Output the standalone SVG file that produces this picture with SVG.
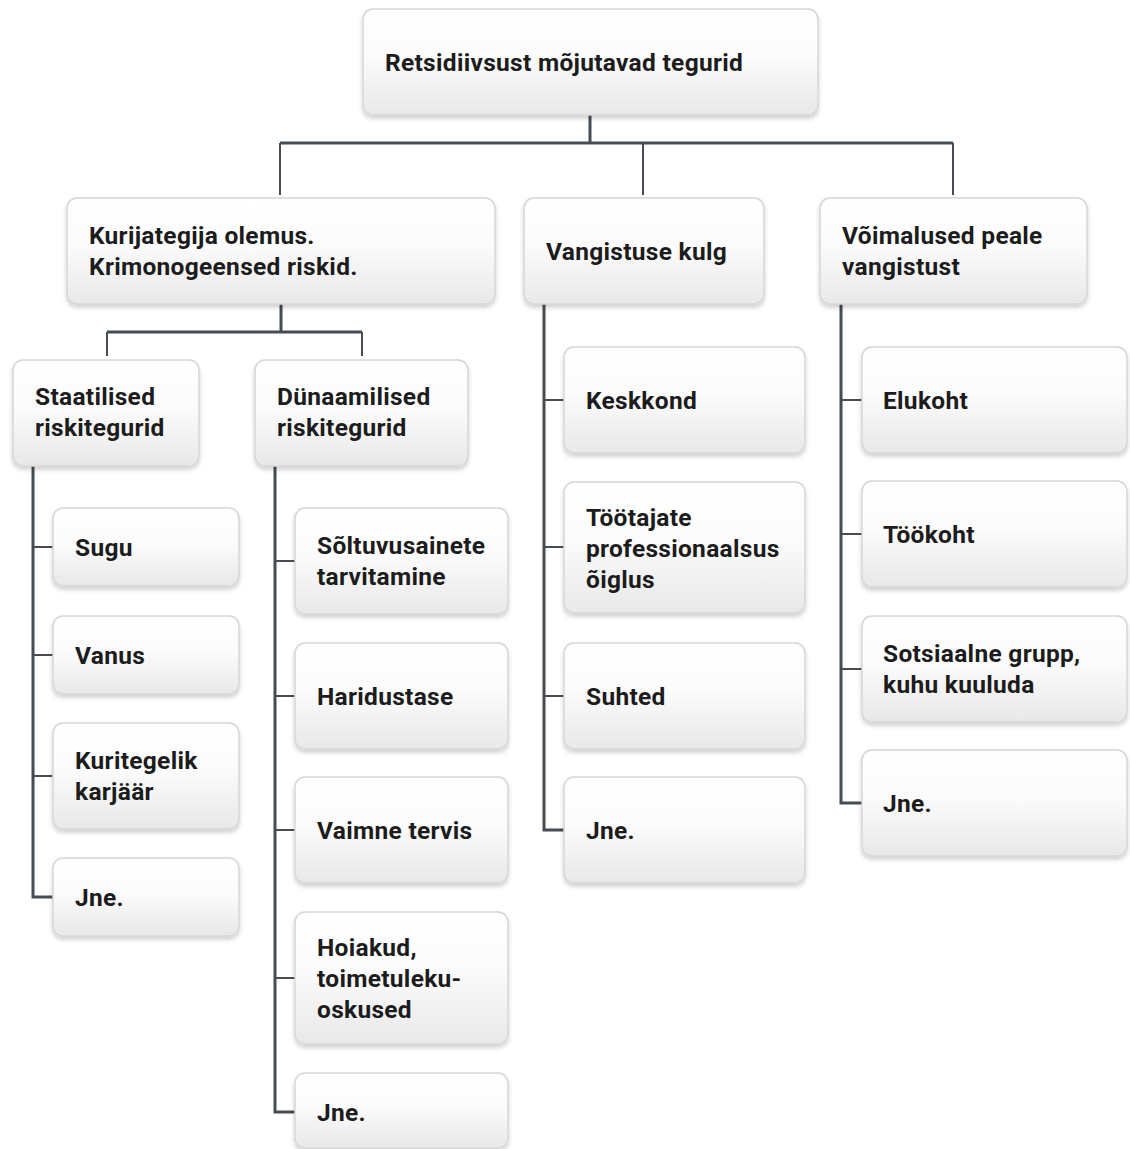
<svg xmlns="http://www.w3.org/2000/svg" width="1130" height="1149" viewBox="0 0 1130 1149">
<style>
.box{fill:url(#g);stroke:#d6d6d6;stroke-width:1.5;filter:url(#sh)}
.t{font-family:Roboto,"Liberation Sans",sans-serif;font-weight:700;font-size:24.5px;letter-spacing:0.3px;fill:#1c1c1c}
.c{fill:none;stroke:#474c52;stroke-width:3;stroke-linejoin:miter}
.th{fill:none;stroke:#474c52;stroke-width:2}
</style>
<defs>
<linearGradient id="g" x1="0" y1="0" x2="0" y2="1">
<stop offset="0" stop-color="#ffffff"/>
<stop offset="0.45" stop-color="#fbfbfb"/>
<stop offset="1" stop-color="#e8e8e8"/>
</linearGradient>
<filter id="sh" x="-10%" y="-10%" width="120%" height="130%">
<feDropShadow dx="0" dy="3" stdDeviation="2" flood-color="#000" flood-opacity="0.18"/>
</filter>
</defs>
<rect width="1130" height="1149" fill="#ffffff"/>
<g id="connectors">
<path class="c" d="M590,115 V143"/>
<path class="c" d="M280,143 H953" stroke-width="3.5"/>
<path class="th" d="M280,143 V195 M643,143 V195 M953,143 V195"/>
<path class="c" d="M281,304 V332"/>
<path class="c" d="M107,332 H362" stroke-width="3.5"/>
<path class="th" d="M107,332 V356 M362,332 V356"/>
<path class="c" d="M33,466 V897 H53"/>
<path class="th" d="M33,547 H53 M33,655 H53 M33,776 H53"/>
<path class="c" d="M275,466 V1112 H295"/>
<path class="th" d="M275,561 H295 M275,696 H295 M275,830 H295 M275,978 H295"/>
<path class="c" d="M544,304 V830 H564"/>
<path class="th" d="M544,400 H564 M544,547 H564 M544,696 H564"/>
<path class="c" d="M841,304 V803 H862"/>
<path class="th" d="M841,400 H862 M841,534 H862 M841,669 H862"/>
</g>
<g id="n0"><rect class="box" x="363" y="9" width="455" height="106" rx="10"/><text class="t" x="385" y="71">Retsidiivsust mõjutavad tegurid</text></g>
<g id="n1"><rect class="box" x="67" y="198" width="428" height="106" rx="10"/><text class="t" x="89" y="244">Kurijategija olemus.</text><text class="t" x="89" y="275">Krimonogeensed riskid.</text></g>
<g id="n2"><rect class="box" x="524" y="198" width="240" height="106" rx="10"/><text class="t" x="546" y="260">Vangistuse kulg</text></g>
<g id="n3"><rect class="box" x="820" y="198" width="267" height="106" rx="10"/><text class="t" x="842" y="244">Võimalused peale</text><text class="t" x="842" y="275">vangistust</text></g>
<g id="n11"><rect class="box" x="13" y="360" width="186" height="106" rx="10"/><text class="t" x="35" y="405">Staatilised</text><text class="t" x="35" y="436">riskitegurid</text></g>
<g id="n12"><rect class="box" x="255" y="360" width="213" height="106" rx="10"/><text class="t" x="277" y="405">Dünaamilised</text><text class="t" x="277" y="436">riskitegurid</text></g>
<g id="n111"><rect class="box" x="53" y="508" width="186" height="78" rx="10"/><text class="t" x="75" y="556">Sugu</text></g>
<g id="n112"><rect class="box" x="53" y="616" width="186" height="78" rx="10"/><text class="t" x="75" y="664">Vanus</text></g>
<g id="n113"><rect class="box" x="53" y="723" width="186" height="106" rx="10"/><text class="t" x="75" y="769">Kuritegelik</text><text class="t" x="75" y="800">karjäär</text></g>
<g id="n114"><rect class="box" x="53" y="858" width="186" height="78" rx="10"/><text class="t" x="75" y="906">Jne.</text></g>
<g id="n121"><rect class="box" x="295" y="508" width="213" height="106" rx="10"/><text class="t" x="317" y="554">Sõltuvusainete</text><text class="t" x="317" y="585">tarvitamine</text></g>
<g id="n122"><rect class="box" x="295" y="643" width="213" height="106" rx="10"/><text class="t" x="317" y="705">Haridustase</text></g>
<g id="n123"><rect class="box" x="295" y="777" width="213" height="106" rx="10"/><text class="t" x="317" y="839">Vaimne tervis</text></g>
<g id="n124"><rect class="box" x="295" y="912" width="213" height="132" rx="10"/><text class="t" x="317" y="956">Hoiakud,</text><text class="t" x="317" y="987">toimetuleku-</text><text class="t" x="317" y="1018">oskused</text></g>
<g id="n125"><rect class="box" x="295" y="1073" width="213" height="75" rx="10"/><text class="t" x="317" y="1121">Jne.</text></g>
<g id="n21"><rect class="box" x="564" y="347" width="241" height="106" rx="10"/><text class="t" x="586" y="409">Keskkond</text></g>
<g id="n22"><rect class="box" x="564" y="482" width="241" height="131" rx="10"/><text class="t" x="586" y="526">Töötajate</text><text class="t" x="586" y="557">professionaalsus</text><text class="t" x="586" y="588">õiglus</text></g>
<g id="n23"><rect class="box" x="564" y="643" width="241" height="106" rx="10"/><text class="t" x="586" y="705">Suhted</text></g>
<g id="n24"><rect class="box" x="564" y="777" width="241" height="106" rx="10"/><text class="t" x="586" y="839">Jne.</text></g>
<g id="n31"><rect class="box" x="862" y="347" width="265" height="106" rx="10"/><text class="t" x="883" y="409">Elukoht</text></g>
<g id="n32"><rect class="box" x="862" y="481" width="265" height="106" rx="10"/><text class="t" x="883" y="543">Töökoht</text></g>
<g id="n33"><rect class="box" x="862" y="616" width="265" height="106" rx="10"/><text class="t" x="883" y="662">Sotsiaalne grupp,</text><text class="t" x="883" y="693">kuhu kuuluda</text></g>
<g id="n34"><rect class="box" x="862" y="750" width="265" height="106" rx="10"/><text class="t" x="883" y="812">Jne.</text></g>
</svg>
